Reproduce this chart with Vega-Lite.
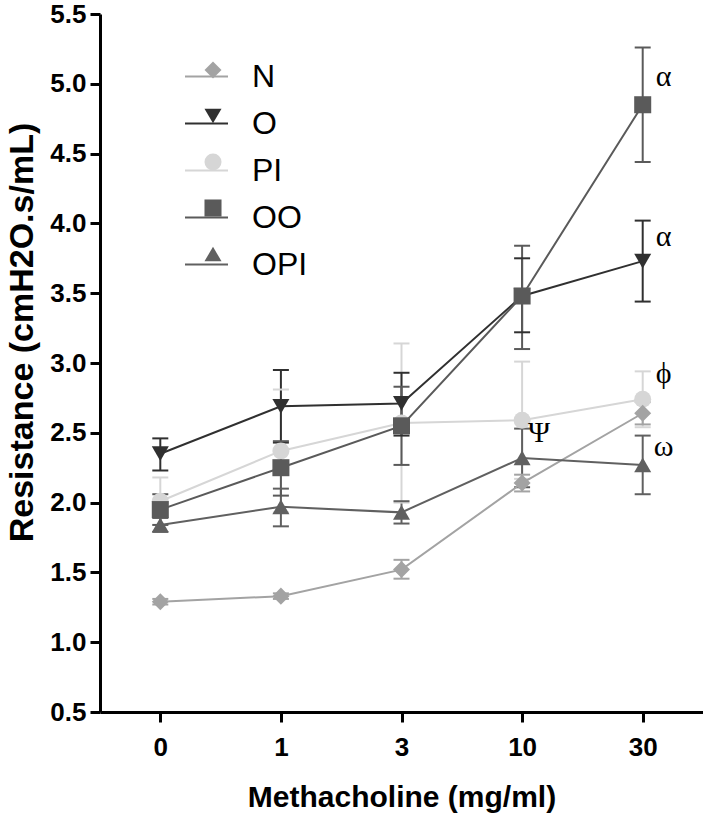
{
  "$schema": "https://vega.github.io/schema/vega-lite/v6.json",
  "width": 603,
  "height": 698,
  "autosize": {"type": "none"},
  "padding": {"left": 100, "top": 14, "right": 0, "bottom": 105},
  "background": "white",
  "config": {
    "view": {"stroke": null},
    "font": "Liberation Sans",
    "axis": {
      "domainColor": "black", "domainWidth": 3, "tickColor": "black", "tickWidth": 3, "tickSize": 10,
      "labelFont": "Liberation Sans", "labelFontWeight": "bold", "labelFontSize": 26, "labelColor": "black",
      "titleFont": "Liberation Sans", "titleFontWeight": "bold", "titleColor": "black", "grid": false
    },
    "legend": {"padding": 0, "labelFont": "Liberation Sans", "labelFontSize": 32, "labelColor": "black"}
  },
  "datasets": {
    "pts": [
      {"dose": "0", "group": "PI", "mean": 2.01, "lo": 1.84, "hi": 2.18},
      {"dose": "1", "group": "PI", "mean": 2.37, "lo": 1.93, "hi": 2.81},
      {"dose": "3", "group": "PI", "mean": 2.57, "lo": 2.0, "hi": 3.14},
      {"dose": "10", "group": "PI", "mean": 2.59, "lo": 2.17, "hi": 3.01},
      {"dose": "30", "group": "PI", "mean": 2.74, "lo": 2.54, "hi": 2.94},
      {"dose": "0", "group": "N", "mean": 1.29, "lo": 1.27, "hi": 1.31},
      {"dose": "1", "group": "N", "mean": 1.33, "lo": 1.31, "hi": 1.35},
      {"dose": "3", "group": "N", "mean": 1.52, "lo": 1.455, "hi": 1.59},
      {"dose": "10", "group": "N", "mean": 2.14, "lo": 2.08, "hi": 2.2},
      {"dose": "30", "group": "N", "mean": 2.64, "lo": 2.56, "hi": 2.72},
      {"dose": "0", "group": "OPI", "mean": 1.84, "lo": 1.79, "hi": 1.89},
      {"dose": "1", "group": "OPI", "mean": 1.97, "lo": 1.83, "hi": 2.1},
      {"dose": "3", "group": "OPI", "mean": 1.93, "lo": 1.85, "hi": 2.01},
      {"dose": "10", "group": "OPI", "mean": 2.32, "lo": 2.11, "hi": 2.53},
      {"dose": "30", "group": "OPI", "mean": 2.27, "lo": 2.06, "hi": 2.48},
      {"dose": "0", "group": "O", "mean": 2.35, "lo": 2.23, "hi": 2.46},
      {"dose": "1", "group": "O", "mean": 2.69, "lo": 2.43, "hi": 2.95},
      {"dose": "3", "group": "O", "mean": 2.71, "lo": 2.48, "hi": 2.93},
      {"dose": "10", "group": "O", "mean": 3.48, "lo": 3.22, "hi": 3.75},
      {"dose": "30", "group": "O", "mean": 3.73, "lo": 3.44, "hi": 4.02},
      {"dose": "0", "group": "OO", "mean": 1.95, "lo": 1.84, "hi": 2.06},
      {"dose": "1", "group": "OO", "mean": 2.25, "lo": 2.05, "hi": 2.44},
      {"dose": "3", "group": "OO", "mean": 2.55, "lo": 2.27, "hi": 2.83},
      {"dose": "10", "group": "OO", "mean": 3.48, "lo": 3.1, "hi": 3.84},
      {"dose": "30", "group": "OO", "mean": 4.85, "lo": 4.44, "hi": 5.26}
    ],
    "ann30": [
      {"dose": "30", "v": 5.05, "label": "α"},
      {"dose": "30", "v": 3.9, "label": "α"},
      {"dose": "30", "v": 2.92, "label": "ϕ"},
      {"dose": "30", "v": 2.4, "label": "ω"}
    ],
    "ann10": [
      {"dose": "10", "v": 2.5, "label": "Ψ"}
    ]
  },
  "data": {"name": "pts"},
  "encoding": {
    "x": {"field": "dose", "type": "ordinal", "sort": ["0", "1", "3", "10", "30"],
      "scale": {"type": "point", "padding": 0.5},
      "axis": {"title": "Methacholine (mg/ml)", "labelAngle": 0, "labelPadding": 12, "titlePadding": 22, "titleFontSize": 30}}
  },
  "layer": [
    {
      "mark": {"type": "rule", "strokeWidth": 2},
      "encoding": {
        "y": {"field": "lo", "type": "quantitative", "scale": {"domain": [0.5, 5.5], "nice": false, "zero": false},
          "axis": {"title": "Resistance (cmH2O.s/mL)", "values": [0.5, 1, 1.5, 2, 2.5, 3, 3.5, 4, 4.5, 5, 5.5], "format": ".1f", "labelPadding": 4, "titlePadding": 10, "titleFontSize": 34, "titleY": 318}},
        "y2": {"field": "hi"},
        "stroke": {"field": "group", "type": "nominal", "sort": ["N", "O", "PI", "OO", "OPI"], "scale": {"range": ["#a3a3a3", "#303030", "#d6d6d6", "#5a5a5a", "#606060"]},
          "legend": {"orient": "none", "legendX": 84, "legendY": 40, "symbolType": "stroke", "symbolSize": 1849, "symbolStrokeWidth": 2, "symbolFillColor": "transparent", "labelOffset": 23, "rowPadding": 8, "title": null, "direction": "vertical"}}
      }
    },
    {
      "mark": {"type": "point", "shape": "M-1,0H1", "size": 256, "filled": false, "strokeWidth": 2, "opacity": 1},
      "encoding": {
        "y": {"field": "lo", "type": "quantitative", "scale": {"domain": [0.5, 5.5], "nice": false, "zero": false},
          "axis": {"title": "Resistance (cmH2O.s/mL)", "values": [0.5, 1, 1.5, 2, 2.5, 3, 3.5, 4, 4.5, 5, 5.5], "format": ".1f", "labelPadding": 4, "titlePadding": 10, "titleFontSize": 34, "titleY": 318}},
        "stroke": {"field": "group", "type": "nominal", "sort": ["N", "O", "PI", "OO", "OPI"], "scale": {"range": ["#a3a3a3", "#303030", "#d6d6d6", "#5a5a5a", "#606060"]},
          "legend": {"orient": "none", "legendX": 84, "legendY": 40, "symbolType": "stroke", "symbolSize": 1849, "symbolStrokeWidth": 2, "symbolFillColor": "transparent", "labelOffset": 23, "rowPadding": 8, "title": null, "direction": "vertical"}}
      }
    },
    {
      "mark": {"type": "point", "shape": "M-1,0H1", "size": 256, "filled": false, "strokeWidth": 2, "opacity": 1},
      "encoding": {
        "y": {"field": "hi", "type": "quantitative", "scale": {"domain": [0.5, 5.5], "nice": false, "zero": false},
          "axis": {"title": "Resistance (cmH2O.s/mL)", "values": [0.5, 1, 1.5, 2, 2.5, 3, 3.5, 4, 4.5, 5, 5.5], "format": ".1f", "labelPadding": 4, "titlePadding": 10, "titleFontSize": 34, "titleY": 318}},
        "stroke": {"field": "group", "type": "nominal", "sort": ["N", "O", "PI", "OO", "OPI"], "scale": {"range": ["#a3a3a3", "#303030", "#d6d6d6", "#5a5a5a", "#606060"]},
          "legend": {"orient": "none", "legendX": 84, "legendY": 40, "symbolType": "stroke", "symbolSize": 1849, "symbolStrokeWidth": 2, "symbolFillColor": "transparent", "labelOffset": 23, "rowPadding": 8, "title": null, "direction": "vertical"}}
      }
    },
    {
      "mark": {"type": "line", "strokeWidth": 2},
      "encoding": {
        "y": {"field": "mean", "type": "quantitative", "scale": {"domain": [0.5, 5.5], "nice": false, "zero": false},
          "axis": {"title": "Resistance (cmH2O.s/mL)", "values": [0.5, 1, 1.5, 2, 2.5, 3, 3.5, 4, 4.5, 5, 5.5], "format": ".1f", "labelPadding": 4, "titlePadding": 10, "titleFontSize": 34, "titleY": 318}},
        "stroke": {"field": "group", "type": "nominal", "sort": ["N", "O", "PI", "OO", "OPI"], "scale": {"range": ["#a3a3a3", "#303030", "#d6d6d6", "#5a5a5a", "#606060"]},
          "legend": {"orient": "none", "legendX": 84, "legendY": 40, "symbolType": "stroke", "symbolSize": 1849, "symbolStrokeWidth": 2, "symbolFillColor": "transparent", "labelOffset": 23, "rowPadding": 8, "title": null, "direction": "vertical"}}
      }
    },
    {
      "mark": {"type": "point", "filled": true, "size": 290, "opacity": 1, "strokeWidth": 0},
      "encoding": {
        "y": {"field": "mean", "type": "quantitative", "scale": {"domain": [0.5, 5.5], "nice": false, "zero": false},
          "axis": {"title": "Resistance (cmH2O.s/mL)", "values": [0.5, 1, 1.5, 2, 2.5, 3, 3.5, 4, 4.5, 5, 5.5], "format": ".1f", "labelPadding": 4, "titlePadding": 10, "titleFontSize": 34, "titleY": 318}},
        "color": {"field": "group", "type": "nominal", "scale": {"domain": ["N", "O", "PI", "OO", "OPI"], "range": ["#a3a3a3", "#303030", "#d6d6d6", "#5a5a5a", "#606060"]},
          "legend": {"orient": "none", "legendX": 97, "legendY": 40, "symbolSize": 290, "symbolStrokeWidth": 0, "labelOffset": 23, "labelExpr": "''", "rowPadding": 14, "title": null, "direction": "vertical"}},
        "shape": {"field": "group", "type": "nominal", "scale": {"domain": ["N", "O", "PI", "OO", "OPI"], "range": ["diamond", "triangle-down", "circle", "square", "triangle-up"]},
          "legend": {"orient": "none", "legendX": 97, "legendY": 40, "symbolSize": 290, "symbolStrokeWidth": 0, "labelOffset": 23, "labelExpr": "''", "rowPadding": 14, "title": null, "direction": "vertical"}}
      }
    },
    {
      "data": {"name": "ann30"},
      "mark": {"type": "text", "font": "Liberation Serif", "fontSize": 30, "dx": 21, "align": "center", "baseline": "middle", "color": "black"},
      "encoding": {
        "y": {"field": "v", "type": "quantitative", "scale": {"domain": [0.5, 5.5], "nice": false, "zero": false},
          "axis": {"title": "Resistance (cmH2O.s/mL)", "values": [0.5, 1, 1.5, 2, 2.5, 3, 3.5, 4, 4.5, 5, 5.5], "format": ".1f", "labelPadding": 4, "titlePadding": 10, "titleFontSize": 34, "titleY": 318}},
        "text": {"field": "label"}
      }
    },
    {
      "data": {"name": "ann10"},
      "mark": {"type": "text", "font": "Liberation Serif", "fontSize": 30, "dx": 17, "align": "center", "baseline": "middle", "color": "black"},
      "encoding": {
        "y": {"field": "v", "type": "quantitative", "scale": {"domain": [0.5, 5.5], "nice": false, "zero": false},
          "axis": {"title": "Resistance (cmH2O.s/mL)", "values": [0.5, 1, 1.5, 2, 2.5, 3, 3.5, 4, 4.5, 5, 5.5], "format": ".1f", "labelPadding": 4, "titlePadding": 10, "titleFontSize": 34, "titleY": 318}},
        "text": {"field": "label"}
      }
    }
  ]
}
